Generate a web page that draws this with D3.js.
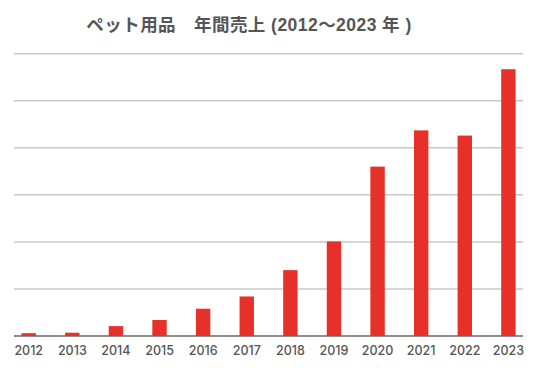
<!DOCTYPE html>
<html><head><meta charset="utf-8">
<script src="https://cdn.jsdelivr.net/npm/d3@7"></script>
<style>body{margin:0;background:#fff;}svg{display:block;}</style>
</head><body>
<svg id="c" width="536" height="368"></svg>
<script>
const title = "ペット用品　年間売上 (2012〜2023 年 )";
const years = ["2012","2013","2014","2015","2016","2017","2018","2019","2020","2021","2022","2023"];
const sales = [0.06,0.07,0.21,0.34,0.58,0.84,1.40,2.01,3.60,4.37,4.26,5.67];
const gridTicks = [0,1,2,3,4,5,6];

const svg = d3.select("#c");
const x = d3.scaleBand().domain(years).range([6.9, 530.2]).paddingInner(0.67).paddingOuter(0.335);
const y = d3.scaleLinear().domain([0,6]).range([336, 53.7]);

svg.append("text").attr("x",249).attr("y",31)
  .attr("text-anchor","middle")
  .attr("font-family","'Liberation Sans', 'Noto Sans CJK JP', sans-serif").attr("font-weight","bold")
  .attr("font-size",17.5).attr("letter-spacing",0.45).attr("fill","#555").text(title);

svg.append("g").selectAll("line").data(gridTicks.filter(d=>d>0)).join("line")
  .attr("x1",14).attr("x2",523).attr("y1",d=>y(d)).attr("y2",d=>y(d))
  .attr("stroke","#c8c8c8").attr("stroke-width",1.5);

svg.append("g").selectAll("rect").data(years).join("rect")
  .attr("x",d=>x(d)).attr("width",x.bandwidth())
  .attr("y",(d,i)=>y(sales[i])).attr("height",(d,i)=>y(0)-y(sales[i]))
  .attr("fill","#e8302a");

svg.append("line").attr("x1",14).attr("x2",523).attr("y1",y(0)).attr("y2",y(0))
  .attr("stroke","#666").attr("stroke-width",1.5);

const ax = svg.append("g").attr("transform",`translate(0,${y(0)})`)
  .call(d3.axisBottom(x).tickSize(0).tickPadding(10));
ax.select(".domain").remove();
ax.selectAll("text").attr("font-family","Inter, 'Noto Sans', sans-serif")
  .attr("font-size",12.5).attr("font-weight",500).attr("fill","#555");
</script>
</body></html>
